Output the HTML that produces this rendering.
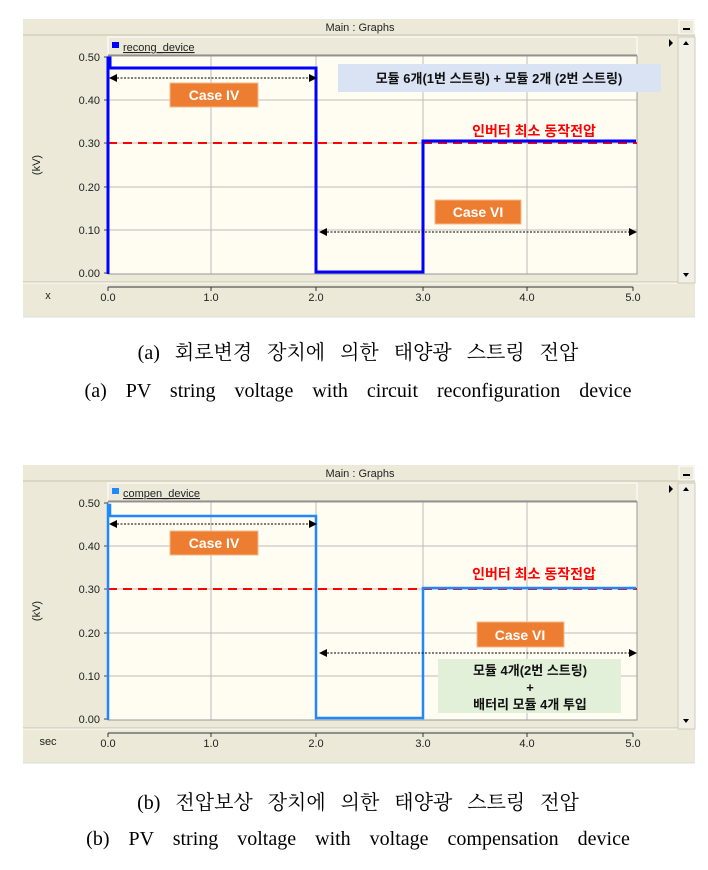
<!DOCTYPE html>
<html><head><meta charset="utf-8"><style>
body{margin:0;background:#fff;width:708px;height:870px;overflow:hidden}
svg{display:block}
.cap{position:absolute;left:0;width:716px;text-align:center;font-family:"Liberation Serif","Noto Serif CJK SC",serif;font-size:20px;color:#000;white-space:nowrap}
.ko{word-spacing:10px}
.en{word-spacing:14px}
</style></head><body>
<svg width="708" height="870" xmlns="http://www.w3.org/2000/svg" font-family="Liberation Sans, Noto Sans CJK KR, sans-serif">
<defs>
<marker id="ar" markerWidth="8" markerHeight="8" refX="7" refY="4" orient="auto-start-reverse" markerUnits="userSpaceOnUse"><path d="M0,0 L8,4 L0,8 Z" fill="#000"/></marker>
<g id="frame">
<rect x="23" y="19" width="672" height="298" fill="#ece9d8"/>
<line x1="23" y1="35" x2="695" y2="35" stroke="#c8c4b0"/>
<text x="360" y="31" font-size="11" text-anchor="middle" fill="#222">Main : Graphs</text>
<rect x="679" y="20" width="15" height="14" fill="#ece9d8" stroke="#fff"/>
<line x1="683" y1="29" x2="690" y2="29" stroke="#000" stroke-width="2"/>
<rect x="108" y="37" width="529" height="18" fill="#ece9d8" stroke="#fff"/>
<line x1="108" y1="55" x2="637" y2="55" stroke="#888"/>
<rect x="108" y="56" width="529" height="218" fill="#fffcf2"/>
<g stroke="#bbb" stroke-width="1">
<line x1="211" y1="56" x2="211" y2="274"/><line x1="316" y1="56" x2="316" y2="274"/>
<line x1="423" y1="56" x2="423" y2="274"/><line x1="527" y1="56" x2="527" y2="274"/>
<line x1="108" y1="100" x2="637" y2="100"/><line x1="108" y1="143" x2="637" y2="143"/>
<line x1="108" y1="187" x2="637" y2="187"/><line x1="108" y1="230" x2="637" y2="230"/>
</g>
<rect x="108" y="56" width="529" height="218" fill="none" stroke="#999"/>
<g stroke="#444"><line x1="104" y1="57" x2="108" y2="57"/><line x1="104" y1="100" x2="108" y2="100"/><line x1="104" y1="143" x2="108" y2="143"/><line x1="104" y1="187" x2="108" y2="187"/><line x1="104" y1="230" x2="108" y2="230"/><line x1="104" y1="273" x2="108" y2="273"/></g>
<g font-size="11" fill="#222" text-anchor="end">
<text x="100" y="61">0.50</text><text x="100" y="104">0.40</text><text x="100" y="147">0.30</text><text x="100" y="191">0.20</text><text x="100" y="234">0.10</text><text x="100" y="277">0.00</text>
</g>
<text x="40" y="165" font-size="11" fill="#222" transform="rotate(-90 40 165)" text-anchor="middle">(kV)</text>
<line x1="23" y1="283" x2="678" y2="283" stroke="#fff"/>
<line x1="23" y1="282" x2="678" y2="282" stroke="#c8c4b0"/>
<line x1="108" y1="287" x2="633" y2="287" stroke="#333"/>
<g stroke="#333"><line x1="108" y1="287" x2="108" y2="291"/><line x1="211" y1="287" x2="211" y2="291"/><line x1="316" y1="287" x2="316" y2="291"/><line x1="423" y1="287" x2="423" y2="291"/><line x1="527" y1="287" x2="527" y2="291"/><line x1="633" y1="287" x2="633" y2="291"/></g>
<g font-size="11" fill="#222" text-anchor="middle">
<text x="108" y="301">0.0</text><text x="211" y="301">1.0</text><text x="316" y="301">2.0</text><text x="423" y="301">3.0</text><text x="527" y="301">4.0</text><text x="633" y="301">5.0</text>
</g>
<rect x="678" y="37" width="17" height="246" fill="#f2f0e6" stroke="#d0ccb8"/>
<path d="M683,45 L689,45 L686,41 Z" fill="#000"/>
<path d="M683,273 L689,273 L686,277 Z" fill="#000"/>
<path d="M669,39 L673,43 L669,47 Z" fill="#000"/>
<line x1="23" y1="317" x2="695" y2="317" stroke="#ddd"/>
</g>
</defs>

<!-- Top panel -->
<use href="#frame"/>
<text x="48" y="299" font-size="11" fill="#222" text-anchor="middle">x</text>
<rect x="112" y="42" width="7" height="6" fill="#0000ff"/>
<text x="123" y="51" font-size="11" fill="#222" text-decoration="underline">recong_device</text>
<rect x="338" y="64" width="323" height="28" fill="#dae3f3"/>
<text x="499" y="83" font-size="13" font-weight="bold" fill="#111" text-anchor="middle">모듈 6개(1번 스트링) + 모듈 2개 (2번 스트링)</text>
<line x1="108" y1="143" x2="637" y2="143" stroke="#ff0000" stroke-width="2" stroke-dasharray="9,6"/>
<polyline points="108,274 108,58 110,58 110,68 316,68 316,272 423,272 423,141 636,141" fill="none" stroke="#0000ff" stroke-width="3"/>
<line x1="110" y1="78" x2="316" y2="78" stroke="#000" stroke-dasharray="2,1.5" marker-start="url(#ar)" marker-end="url(#ar)"/>
<rect x="170" y="83" width="88" height="24" fill="#ed7d31" stroke="#f7b98e"/>
<text x="214" y="100" font-size="14" font-weight="bold" fill="#fff" text-anchor="middle">Case IV</text>
<text x="534" y="136" font-size="14" font-weight="bold" fill="#ff0000" text-anchor="middle">인버터 최소 동작전압</text>
<rect x="435" y="200" width="86" height="24" fill="#ed7d31" stroke="#f7b98e"/>
<text x="478" y="217" font-size="14" font-weight="bold" fill="#fff" text-anchor="middle">Case VI</text>
<line x1="320" y1="232" x2="636" y2="232" stroke="#000" stroke-dasharray="2,1.5" marker-start="url(#ar)" marker-end="url(#ar)"/>

<!-- Bottom panel -->
<use href="#frame" y="446"/>
<text x="48" y="745" font-size="11" fill="#222" text-anchor="middle">sec</text>
<rect x="112" y="488" width="7" height="6" fill="#1e88ff"/>
<text x="123" y="497" font-size="11" fill="#222" text-decoration="underline">compen_device</text>
<line x1="108" y1="589" x2="637" y2="589" stroke="#ff0000" stroke-width="2" stroke-dasharray="9,6"/>
<polyline points="108,720 108,505 110,505 110,516 316,516 316,718 423,718 423,588 636,588" fill="none" stroke="#1e88ff" stroke-width="2.5"/>
<line x1="110" y1="524" x2="316" y2="524" stroke="#000" stroke-dasharray="2,1.5" marker-start="url(#ar)" marker-end="url(#ar)"/>
<rect x="170" y="531" width="88" height="24" fill="#ed7d31" stroke="#f7b98e"/>
<text x="214" y="548" font-size="14" font-weight="bold" fill="#fff" text-anchor="middle">Case IV</text>
<text x="534" y="579" font-size="14" font-weight="bold" fill="#ff0000" text-anchor="middle">인버터 최소 동작전압</text>
<rect x="477" y="622" width="87" height="25" fill="#ed7d31" stroke="#f7b98e"/>
<text x="520" y="640" font-size="14" font-weight="bold" fill="#fff" text-anchor="middle">Case VI</text>
<line x1="320" y1="653" x2="636" y2="653" stroke="#000" stroke-dasharray="2,1.5" marker-start="url(#ar)" marker-end="url(#ar)"/>
<rect x="438" y="659" width="183" height="54" fill="#e2f0d9"/>
<text x="530" y="675" font-size="13" font-weight="bold" fill="#111" text-anchor="middle">모듈 4개(2번 스트링)</text>
<text x="530" y="692" font-size="13" font-weight="bold" fill="#111" text-anchor="middle">+</text>
<text x="530" y="709" font-size="13" font-weight="bold" fill="#111" text-anchor="middle">배터리 모듈 4개 투입</text>
</svg>
<div class="cap ko" style="top:336px">(a) 회로변경 장치에 의한 태양광 스트링 전압</div>
<div class="cap en" style="top:380px">(a) PV string voltage with circuit reconfiguration device</div>
<div class="cap ko" style="top:786px">(b) 전압보상 장치에 의한 태양광 스트링 전압</div>
<div class="cap en" style="top:828px">(b) PV string voltage with voltage compensation device</div>
</body></html>
